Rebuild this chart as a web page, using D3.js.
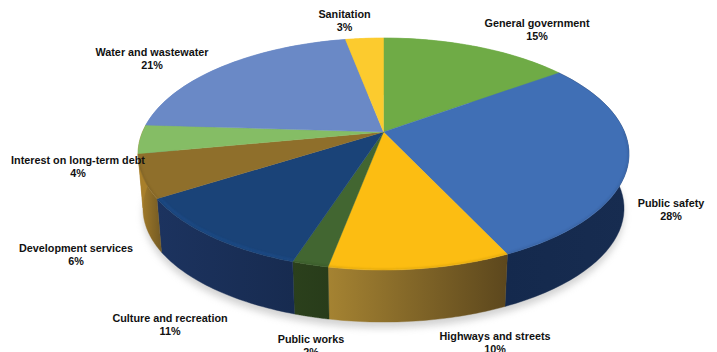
<!DOCTYPE html>
<html>
<head>
<meta charset="utf-8">
<script src="https://cdn.jsdelivr.net/npm/d3@7/dist/d3.min.js"></script>
<style>
html,body{margin:0;padding:0;background:#fff;overflow:hidden}
svg{display:block}
text{font-family:"Liberation Sans",Arial,sans-serif;font-weight:700;font-size:10.8px;fill:#111;text-anchor:middle}
</style>
</head>
<body>
<div id="chart"></div>
<script>
// Municipal expenditure shares, clockwise from twelve o'clock
const categories = ["General government","Public safety","Highways and streets","Public works",
  "Culture and recreation","Development services","Interest on long-term debt","Water and wastewater","Sanitation"];
const shares = [15,28,10,2,11,6,4,21,3];

// Slice fills and the left/right shades of their outer walls
const topColors = ["#6fab46","#406fb5","#fcbd12","#426631","#1a4378","#8f6f2b","#85bd65","#6a89c6","#fccb2e"];
const wallLeft  = ["#6fab46","#14294d","#a58332","#2b401c","#1c335f","#a87f2a","#a87f2a","#6a89c6","#fccb2e"];
const wallRight = ["#6fab46","#172c50","#5c471d","#283c1a","#172b50","#735a24","#a87f2a","#6a89c6","#fccb2e"];

// Centre of each two-line label [x, y of first line]
const labelSpots = [[537,27],[671,207],[495,340],[311,343],[170,322],[76,252],[78,164],[152,56],[344.5,18]];

const width = 717, height = 352;
const svg = d3.select("#chart").append("svg").attr("width",width).attr("height",height);
const defs = svg.append("defs");

defs.append("filter").attr("id","soft").attr("x","-10%").attr("y","-10%").attr("width","120%").attr("height","130%")
  .append("feGaussianBlur").attr("stdDeviation",1);
defs.append("filter").attr("id","ground").attr("x","-10%").attr("y","-20%").attr("width","120%").attr("height","140%")
  .append("feGaussianBlur").attr("stdDeviation",3.5);

// Perspective view of the disc: the far half is foreshortened, the near half enlarged
const apex = {x:383.5, y:132};
const tilt = -0.19, spanX = 241, spanY = 111.8;
const wallScale = 0.98, wallDrop = 54.8;

function project(angle, scale, drop){
  const u = Math.sin(angle), v = -Math.cos(angle), w = 1 + tilt*v;
  return [apex.x + scale*spanX*u/w, apex.y + drop + scale*spanY*v/w];
}
const rimPoints = (a0,a1,scale,drop) =>
  d3.range(0,41).map(i => project(a0 + (a1-a0)*i/40, scale, drop));

const line = d3.line();
const arcs = d3.pie().sort(null).value(d => d)(shares);

// Soft contact shadow under the near edge
svg.append("path")
  .attr("d", line(rimPoints(Math.PI*0.42,Math.PI*1.5,wallScale,wallDrop+6))+"Z")
  .attr("fill","#a8a8a8").attr("opacity",.5).attr("filter","url(#ground)");

// Outer walls
arcs.forEach((a,i)=>{
  const upper = rimPoints(a.startAngle,a.endAngle,1,0);
  const lower = rimPoints(a.endAngle,a.startAngle,wallScale,wallDrop);
  const xs = upper.concat(lower).map(p=>p[0]);
  const grad = defs.append("linearGradient").attr("id","wall"+i)
    .attr("gradientUnits","userSpaceOnUse")
    .attr("x1",d3.min(xs)).attr("x2",d3.max(xs)).attr("y1",0).attr("y2",0);
  grad.append("stop").attr("offset",0).attr("stop-color",wallLeft[i]);
  grad.append("stop").attr("offset",1).attr("stop-color",wallRight[i]);
  svg.append("path").attr("d",line(upper.concat(lower))+"Z")
    .attr("fill",`url(#wall${i})`).attr("stroke",`url(#wall${i})`).attr("stroke-width",.4);
});

// Top faces
arcs.forEach((a,i)=>{
  svg.append("path")
    .attr("d",line([[apex.x,apex.y]].concat(rimPoints(a.startAngle,a.endAngle,1,0)))+"Z")
    .attr("fill",topColors[i]).attr("stroke",topColors[i]).attr("stroke-width",.4);
});

// Bevel along the near rim: a blurred line in a shifted tint of each slice
const clip = defs.append("clipPath").attr("id","disc");
clip.append("path").attr("d",line(rimPoints(0,Math.PI*2,1,0))+"Z");
const bevel = svg.append("g").attr("clip-path","url(#disc)");
arcs.forEach((a,i)=>{
  const start = Math.max(a.startAngle,Math.PI*0.5), end = Math.min(a.endAngle,Math.PI*1.42);
  if(end<=start) return;
  const base = d3.color(topColors[i]);
  const edge = i===4 ? base.brighter(.8) : base.darker(.8);
  bevel.append("path").attr("d",line(rimPoints(start,end,i===4?0.988:1,0)))
    .attr("fill","none").attr("stroke",edge).attr("stroke-width",i===4?1.4:2)
    .attr("filter","url(#soft)").attr("opacity",.55);
});

// Labels: category on the first line, share on the second
categories.forEach((name,i)=>{
  const [x,y] = labelSpots[i];
  const t = svg.append("text").attr("x",x).attr("y",y);
  t.append("tspan").attr("x",x).text(name);
  t.append("tspan").attr("x",x).attr("dy",12.5).text(d3.format("d")(shares[i])+"%");
});
</script>
</body>
</html>
